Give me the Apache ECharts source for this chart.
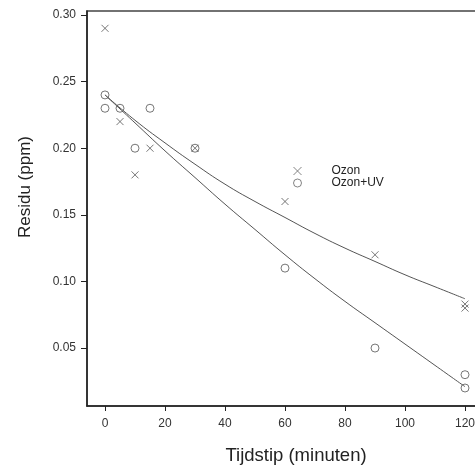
<!DOCTYPE html>
<html>
<head>
<meta charset="utf-8">
<script src="https://cdn.jsdelivr.net/npm/echarts@6/dist/echarts.min.js"></script>
<style>
html, body { margin: 0; padding: 0; background: #fff; }
#chart { width: 475px; height: 466px; }
</style>
</head>
<body>
<div id="chart"></div>
<script>
// gemeten punten
const ozonTime = [0, 5, 10, 15, 30, 60, 90, 120, 120];
const ozonValue = [0.29, 0.22, 0.18, 0.20, 0.20, 0.16, 0.12, 0.083, 0.080];
const uvTime = [0, 0, 5, 10, 15, 30, 60, 90, 120, 120];
const uvValue = [0.24, 0.23, 0.23, 0.20, 0.23, 0.20, 0.11, 0.05, 0.03, 0.02];

const fitTime = [0, 10, 20, 30, 40, 50, 60, 70, 80, 90, 100, 110, 120];
const ozonFit = [0.240, 0.221, 0.204, 0.188, 0.173, 0.160, 0.148, 0.136, 0.125, 0.115, 0.105, 0.096, 0.087];
const uvFit = [0.240, 0.219, 0.198, 0.178, 0.158, 0.139, 0.120, 0.102, 0.085, 0.069, 0.053, 0.037, 0.021];

const xTicks = [0, 20, 40, 60, 80, 100, 120];
const yTicks = [0.05, 0.10, 0.15, 0.20, 0.25, 0.30];

const pair = (xs, ys) => xs.map((x, i) => [x, ys[i]]);
const crossPath = 'path://M0,0L10,10M10,0L0,10';
const font = 'Liberation Sans, Arial, sans-serif';

const chart = echarts.init(document.getElementById('chart'));
const option = {
  animation: false,
  backgroundColor: '#fff',
  textStyle: { fontFamily: font },
  grid: {
    left: 87, top: 11, width: 393, bottom: 60,
    outerBoundsMode: 'none', containLabel: false,
    show: true, borderColor: '#444', borderWidth: 1.5, backgroundColor: 'transparent'
  },
  legend: {
    orient: 'vertical',
    left: 293, top: 165, padding: 0,
    itemWidth: 10, itemHeight: 8, itemGap: 0,
    data: ['Ozon', 'Ozon+UV'],
    itemStyle: { color: 'transparent', borderColor: '#666', borderWidth: 1 },
    textStyle: { fontSize: 12, color: '#222', lineHeight: 12, padding: [0, 0, 0, 24], fontFamily: font }
  },
  xAxis: {
    type: 'value', min: -6, max: 125,
    splitLine: { show: false },
    axisLine: { show: true, onZero: false, lineStyle: { color: '#222', width: 1.5 } },
    axisTick: { show: true, length: 5, customValues: xTicks, lineStyle: { color: '#222' } },
    axisLabel: { customValues: xTicks, fontSize: 12, color: '#333', margin: 12, fontFamily: font }
  },
  yAxis: {
    type: 'value', min: 0.0065, max: 0.303,
    splitLine: { show: false },
    axisLine: { show: true, onZero: false, lineStyle: { color: '#222', width: 1.5 } },
    axisTick: { show: true, length: 6, customValues: yTicks, lineStyle: { color: '#222' } },
    axisLabel: {
      customValues: yTicks, fontSize: 12, color: '#333', margin: 11, fontFamily: font,
      formatter: v => v.toFixed(2)
    }
  },
  graphic: [
    {
      type: 'text', x: 296, y: 456,
      style: { text: 'Tijdstip (minuten)', fill: '#222', font: '18.5px ' + font, textAlign: 'center', textVerticalAlign: 'middle' }
    },
    {
      type: 'text', x: 25, y: 187, rotation: Math.PI / 2,
      style: { text: 'Residu (ppm)', fill: '#222', font: '17px ' + font, textAlign: 'center', textVerticalAlign: 'middle' }
    }
  ],
  series: [
    {
      name: 'Ozon', type: 'scatter', data: pair(ozonTime, ozonValue),
      symbol: crossPath, symbolSize: 7,
      itemStyle: { color: 'transparent', borderColor: '#555', borderWidth: 1 }
    },
    {
      name: 'Ozon+UV', type: 'scatter', data: pair(uvTime, uvValue),
      symbol: 'circle', symbolSize: 8,
      itemStyle: { color: 'transparent', borderColor: '#555', borderWidth: 1 }
    },
    {
      name: 'fitOzon', type: 'line', data: pair(fitTime, ozonFit),
      smooth: true, showSymbol: false, lineStyle: { color: '#555', width: 1 }
    },
    {
      name: 'fitUV', type: 'line', data: pair(fitTime, uvFit),
      smooth: true, showSymbol: false, lineStyle: { color: '#555', width: 1 }
    }
  ]
};
chart.setOption(option);
</script>
</body>
</html>
